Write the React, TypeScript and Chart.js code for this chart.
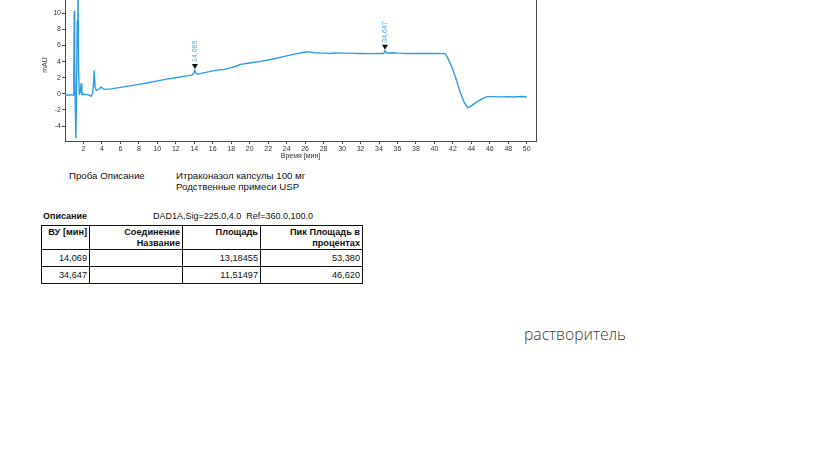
import { useEffect, useRef } from "react";
import { Chart, registerables } from "chart.js";

Chart.register(...registerables);

// Chromatogram (time in min, signal in mAU)
const times = [
  0, 0.5, 0.9, 0.95, 1.0, 1.05, 1.12, 1.18, 1.25, 1.32, 1.4, 1.47, 1.55, 1.65, 1.75, 1.82,
  2.0, 2.5, 2.85, 3.0, 3.1, 3.17, 3.25, 3.4, 3.7, 3.9, 4.1, 4.3, 5, 6, 7, 8, 9, 10, 11, 12,
  13, 13.8, 13.95, 14.07, 14.2, 14.4, 15, 16, 16.8, 17.2, 18, 18.6, 19, 20, 21, 22, 23, 24,
  25, 26, 26.4, 27, 28, 28.8, 29, 30, 31, 32, 33, 34, 34.5, 34.65, 34.8, 35.5, 36, 37, 38,
  39, 40, 41.2, 41.5, 41.9, 42.3, 42.8, 43.2, 43.6, 44, 44.6, 45.2, 45.7, 46.5, 47, 48, 48.5,
  49, 49.6, 50,
];
const absorbance = [
  -0.15, -0.15, -0.15, 2, 10.3, 4, -2, -5.5, 0, 9, 16, 3, 0, 0.2, 1.3, -0.1,
  -0.05, -0.1, -0.3, 0.1, 1.5, 2.9, 0.8, 0.4, 0.6, 0.85, 0.65, 0.55, 0.62, 0.8, 0.98, 1.17, 1.38, 1.6, 1.82, 2.0,
  2.2, 2.35, 2.6, 2.95, 2.5, 2.45, 2.6, 2.85, 3.0, 3.0, 3.25, 3.45, 3.65, 3.82, 4.0, 4.2, 4.45, 4.7,
  4.95, 5.18, 5.2, 5.1, 5.05, 5.0, 5.08, 5.05, 5.02, 5.0, 4.98, 5.0, 5.0, 5.35, 5.05, 5.1, 5.05, 5.0, 5.02,
  5.0, 5.0, 4.98, 4.3, 3.3, 2.0, 0.2, -1.0, -1.7, -1.5, -1.0, -0.6, -0.35, -0.35, -0.38, -0.36, -0.4,
  -0.36, -0.33, -0.42,
];

const xTicks = [2, 4, 6, 8, 10, 12, 14, 16, 18, 20, 22, 24, 26, 28, 30, 32, 34, 36, 38, 40, 42, 44, 46, 48, 50];
const yTicks = [-4, -2, 0, 2, 4, 6, 8, 10, 12];

const peakTimes = [14.069, 34.647];
const peakLabels = ["14,069", "34,647"];

const tableHeaders = ["ВУ [мин]", "Соединение Название", "Площадь", "Пик Площадь в процентах"];
const rowRT = ["14,069", "34,647"];
const rowName = ["", ""];
const rowArea = ["13,18455", "11,51497"];
const rowAreaPct = ["53,380", "46,620"];

const FONT = '"Liberation Sans", Arial, sans-serif';
const LINE = "#2e9de5";
const LABEL = "#4aa8e6";
const AXIS = "#4a4a4a";

const boxPlugin = {
  id: "box",
  afterDraw(chart: any) {
    const { ctx, chartArea } = chart;
    ctx.save();
    ctx.strokeStyle = AXIS;
    ctx.lineWidth = 1;
    ctx.beginPath();
    ctx.moveTo(Math.round(chartArea.right) + 0.5, chartArea.top);
    ctx.lineTo(Math.round(chartArea.right) + 0.5, chartArea.bottom);
    ctx.moveTo(chartArea.left, Math.round(chartArea.top) + 0.5);
    ctx.lineTo(chartArea.right, Math.round(chartArea.top) + 0.5);
    ctx.stroke();
    ctx.restore();
  },
};

const peakPlugin = {
  id: "peaks",
  afterDatasetsDraw(chart: any) {
    const { ctx, scales } = chart;
    const x = scales.x;
    const y = scales.y;
    ctx.save();
    peakTimes.forEach((t, i) => {
      let apex = -Infinity;
      times.forEach((tt, j) => {
        if (Math.abs(tt - t) < 0.25) apex = Math.max(apex, absorbance[j]);
      });
      const px = x.getPixelForValue(t);
      const py = y.getPixelForValue(apex);
      const tip = py - 1;
      ctx.fillStyle = "#111";
      ctx.beginPath();
      ctx.moveTo(px, tip);
      ctx.lineTo(px - 3, tip - 5);
      ctx.lineTo(px + 3, tip - 5);
      ctx.closePath();
      ctx.fill();
      ctx.save();
      ctx.translate(px + 0.5, tip - 7);
      ctx.rotate(-Math.PI / 2);
      ctx.font = `7px ${FONT}`;
      ctx.fillStyle = LABEL;
      ctx.textAlign = "left";
      ctx.textBaseline = "middle";
      ctx.fillText(peakLabels[i], 0, 0);
      ctx.restore();
    });
    ctx.restore();
  },
};

function Chromatogram() {
  const ref = useRef<HTMLCanvasElement>(null);
  useEffect(() => {
    if (!ref.current) return;
    const chart = new Chart(ref.current, {
      type: "line",
      data: {
        datasets: [
          {
            data: times.map((t, i) => ({ x: t, y: absorbance[i] })),
            borderColor: LINE,
            borderWidth: 1.4,
            pointRadius: 0,
            tension: 0,
            fill: false,
          },
        ],
      },
      options: {
        animation: false,
        responsive: false,
        devicePixelRatio: 1,
        layout: { padding: { top: 29, right: 24, left: 0, bottom: 0 } },
        plugins: { legend: { display: false }, tooltip: { enabled: false } },
        scales: {
          x: {
            type: "linear",
            min: 0,
            max: 51,
            afterBuildTicks: (s: any) => {
              s.ticks = xTicks.map((v) => ({ value: v }));
            },
            afterFit: (s: any) => {
              s.height = 29;
            },
            grid: { display: true, drawOnChartArea: false, drawTicks: true, tickLength: 3, color: AXIS },
            border: { display: true, color: AXIS, width: 1 },
            ticks: {
              autoSkip: false,
              maxRotation: 0,
              padding: 1,
              color: "#333",
              font: { family: FONT, size: 7 },
            },
            title: {
              display: true,
              text: "Время [мин]",
              color: "#333",
              font: { family: FONT, size: 7 },
              padding: { top: 0, bottom: 10 },
            },
          },
          y: {
            type: "linear",
            min: -5.85,
            max: 13,
            afterBuildTicks: (s: any) => {
              s.ticks = yTicks.map((v) => ({ value: v }));
            },
            afterFit: (s: any) => {
              s.width = 65;
            },
            grid: { display: true, drawOnChartArea: false, drawTicks: true, tickLength: 3, color: AXIS },
            border: { display: true, color: AXIS, width: 1 },
            ticks: {
              autoSkip: false,
              padding: 1,
              color: "#333",
              font: { family: FONT, size: 7 },
            },
            title: {
              display: true,
              text: "mAU",
              color: "#333",
              font: { family: FONT, size: 7 },
              padding: { top: 41, bottom: 0 },
            },
          },
        },
      },
      plugins: [boxPlugin, peakPlugin],
    });
    return () => chart.destroy();
  }, []);
  return (
    <canvas
      ref={ref}
      width={560}
      height={210}
      style={{ position: "absolute", left: 0, top: -40, width: 560, height: 210 }}
    />
  );
}

const txt: any = {
  position: "absolute",
  fontFamily: FONT,
  fontSize: 9.7,
  lineHeight: "11px",
  color: "#111",
  whiteSpace: "nowrap",
};

const cell: any = {
  border: "1px solid #111",
  padding: "1px 2px 0 2px",
  textAlign: "right",
  fontFamily: FONT,
  fontSize: 9.2,
  lineHeight: "11px",
  color: "#111",
};

export default function App() {
  useEffect(() => {
    document.body.style.margin = "0";
    document.body.style.background = "#fff";
  }, []);
  return (
    <div style={{ position: "relative", width: 819, height: 460, overflow: "hidden", background: "#fff" }}>
      <Chromatogram />
      <div style={{ ...txt, left: 69, top: 170 }}>Проба Описание</div>
      <div style={{ ...txt, left: 176, top: 170 }}>Итраконазол капсулы 100 мг</div>
      <div style={{ ...txt, left: 176, top: 181 }}>Родственные примеси USP</div>
      <div style={{ ...txt, left: 43, top: 211, fontWeight: "bold", fontSize: 9 }}>Описание</div>
      <div style={{ ...txt, left: 153, top: 211, fontSize: 9 }}>DAD1A,Sig=225.0,4.0&nbsp; Ref=360.0,100.0</div>
      <table
        style={{
          position: "absolute",
          left: 41,
          top: 225,
          width: 321,
          borderCollapse: "collapse",
          tableLayout: "fixed",
        }}
      >
        <colgroup>
          <col style={{ width: 48 }} />
          <col style={{ width: 93 }} />
          <col style={{ width: 78 }} />
          <col style={{ width: 102 }} />
        </colgroup>
        <thead>
          <tr style={{ height: 24 }}>
            {tableHeaders.map((h, i) => (
              <th key={i} style={{ ...cell, fontWeight: "bold", verticalAlign: "top" }}>
                {h}
              </th>
            ))}
          </tr>
        </thead>
        <tbody>
          {rowRT.map((rt, i) => (
            <tr key={i} style={{ height: 17 }}>
              <td style={cell}>{rt}</td>
              <td style={cell}>{rowName[i]}</td>
              <td style={cell}>{rowArea[i]}</td>
              <td style={cell}>{rowAreaPct[i]}</td>
            </tr>
          ))}
        </tbody>
      </table>
      <div
        style={{
          position: "absolute",
          left: 524,
          top: 323,
          fontFamily: '"Open Sans", sans-serif',
          fontWeight: 300,
          fontSize: 15.7,
          lineHeight: "22px",
          color: "#3a3a3a",
          whiteSpace: "nowrap",
        }}
      >
        растворитель
      </div>
    </div>
  );
}
